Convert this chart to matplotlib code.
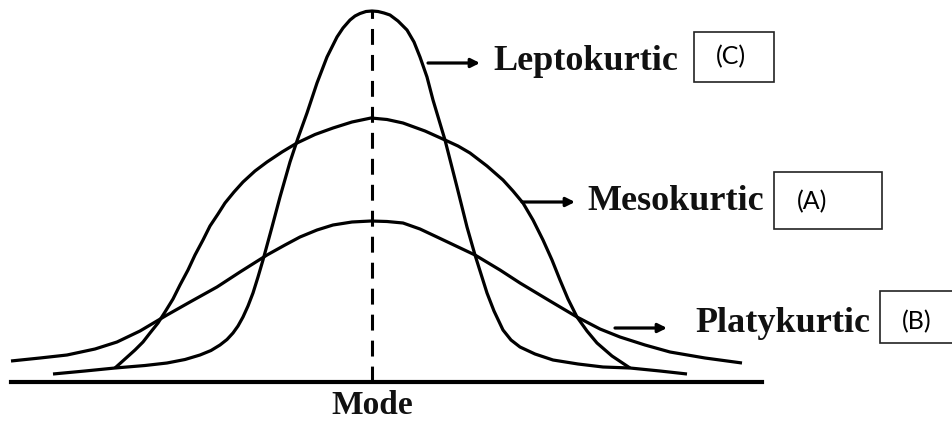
import matplotlib
matplotlib.use("Agg")
from matplotlib import pyplot as plt
from matplotlib.patches import Rectangle

# curve outlines: horizontal position and height above the baseline
platy_x = [11, 40, 67, 95, 117, 140, 167, 190, 217, 240, 267, 285, 300, 317,
           333, 352, 371, 387, 403, 420, 437, 456, 475, 500, 520, 550, 577,
           600, 620, 645, 670, 705, 742]
platy_h = [21, 24, 27, 33, 40, 51, 67, 80, 95, 110, 127, 137, 145, 152,
           157, 160, 161, 160.5, 159, 153, 145, 136, 127, 112, 99, 81, 65,
           53, 45, 37, 30, 24, 19]

meso_x = [115, 125, 135, 143, 150, 158, 165, 173, 180, 188, 195, 203, 210,
          218, 225, 234, 243, 255, 267, 282, 297, 315, 333, 352, 371, 387,
          403, 425, 445, 458, 470, 487, 503, 513, 523, 533, 543, 552, 560,
          568, 577, 587, 597, 612, 630]
meso_h = [14, 23, 32, 40, 49, 59, 70, 83, 97, 112, 127, 142, 156,
          168, 179, 190, 200, 211, 220, 230, 239, 247.5, 254, 260, 264, 262.5,
          259, 251, 242, 236, 229, 216, 202, 191, 179, 162, 142, 122, 102,
          83, 65, 51, 39, 26, 14]

lepto_x = [53, 85, 115, 145, 167, 185, 200, 211, 220, 227, 233, 238, 243,
           248, 253, 258, 263, 272, 280, 290, 298, 307, 317, 327, 337, 343,
           350, 355, 360, 366, 372, 378, 384, 390, 398, 407, 414, 420, 427,
           433, 445, 457, 467, 475, 487, 494, 503, 511, 520, 535, 553, 578,
           603, 630, 660, 687]
lepto_h = [8, 11, 14, 16.5, 19, 22.5, 27, 31.5, 37, 42.5, 49, 56, 65,
           76, 89, 105, 122, 155, 185, 220, 244, 269, 299, 325, 345, 354,
           362, 366, 368.5, 370.5, 371, 370.5, 369, 367, 361, 352, 340, 325, 305,
           282, 242, 195, 155, 127, 89, 71, 52, 42, 35, 28, 22, 18,
           15, 14, 11, 8]

mode_x = 372
mode_top = 371
axis_start, axis_end = 11, 762

labels = ["Leptokurtic", "Mesokurtic", "Platykurtic"]
tags = ["(C)", "(A)", "(B)"]
# arrow start/end x, arrow height, label x, label baseline
arrow_x0 = [428, 522, 615]
arrow_x1 = [480, 575, 667]
arrow_y = [319, 180, 54]
label_x = [493, 587, 695]
label_base = [312, 172, 50]
# tag boxes: left, right, bottom, top; tag text centre
box_l = [694, 774, 880]
box_r = [774, 882, 953]
box_b = [300, 153, 39]
box_t = [350, 210, 91]
tag_x = [731, 812, 917]
tag_y = [325, 180, 60]

fig = plt.figure(figsize=(9.52, 4.21), dpi=100)
ax = fig.add_axes([0, 0, 1, 1])
ax.set_xlim(0, 952)
ax.set_ylim(-39, 382)
ax.axis("off")

lw = 2.3
for xs, hs in [(platy_x, platy_h), (meso_x, meso_h), (lepto_x, lepto_h)]:
    ax.plot(xs, hs, color="black", lw=lw, solid_joinstyle="round",
            solid_capstyle="butt")

ax.plot([axis_start, axis_end], [0, 0], color="black", lw=3.0)
ax.plot([mode_x, mode_x], [0, mode_top], color="black", lw=2.2,
        linestyle=(0, (5.2, 3.3)))

serif = dict(family="Liberation Serif", weight="bold", color="#111111")
for i in range(3):
    ax.annotate("", xy=(arrow_x1[i], arrow_y[i]), xytext=(arrow_x0[i], arrow_y[i]),
                arrowprops=dict(arrowstyle="-|>", lw=2.3, color="black",
                                mutation_scale=13, shrinkA=0, shrinkB=0))
    ax.text(label_x[i], label_base[i], labels[i], ha="left", va="baseline",
            size=26, **serif)
    ax.add_patch(Rectangle((box_l[i], box_b[i]), box_r[i] - box_l[i],
                           box_t[i] - box_b[i], fill=False,
                           edgecolor="#222222", lw=1.2))
    ax.text(tag_x[i], tag_y[i], tags[i], ha="center", va="center",
            family="Lato", size=18, color="black")

ax.text(mode_x, -32, "Mode", ha="center", va="baseline", size=24, **serif)

fig.savefig("out.png", dpi=100)
